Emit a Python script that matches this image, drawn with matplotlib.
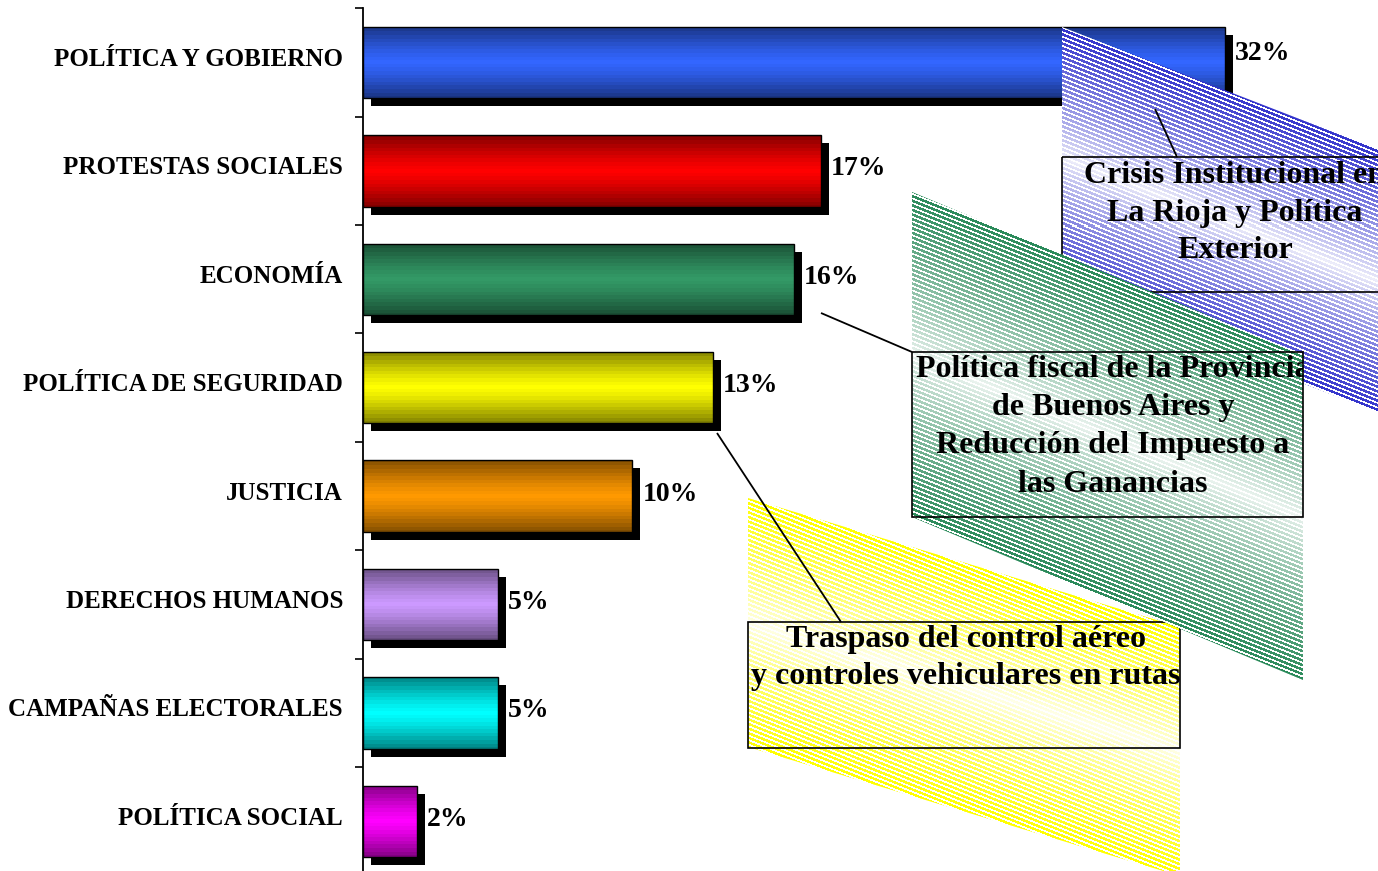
import numpy as np
import matplotlib
matplotlib.use("Agg")
import matplotlib.pyplot as plt
from matplotlib.patches import Rectangle, Polygon
from matplotlib import transforms
from matplotlib.colors import to_rgb

# ---------------- data ----------------
categories = ["POLÍTICA Y GOBIERNO", "PROTESTAS SOCIALES", "ECONOMÍA",
              "POLÍTICA DE SEGURIDAD", "JUSTICIA", "DERECHOS HUMANOS",
              "CAMPAÑAS ELECTORALES", "POLÍTICA SOCIAL"]
values = [32, 17, 16, 13, 10, 5, 5, 2]
value_labels = ["32%", "17%", "16%", "13%", "10%", "5%", "5%", "2%"]
bar_colors = ["#3366FF", "#FF0000", "#339966", "#FFFF00",
              "#FF9900", "#CC99FF", "#00FFFF", "#FF00FF"]

callout_yellow_text = ["Traspaso del control aéreo",
                       "y controles vehiculares en rutas"]
callout_blue_text = ["Crisis Institucional en", "La Rioja y Política", "Exterior"]
callout_green_text = ["Política fiscal de la Provincia", "de Buenos Aires y",
                      "Reducción del Impuesto a", "las Ganancias"]

# ---------------- figure ----------------
W, H = 1378, 871
fig = plt.figure(figsize=(W / 100, H / 100), dpi=100)
FONT = "Liberation Serif"

px_per_unit = (1225 - 363) / 32.0
ax_left, ax_top, ax_bottom = 363, 8.3, 875.5
ax = fig.add_axes([ax_left / W, (H - ax_bottom) / H,
                   (W - ax_left) / W, (ax_bottom - ax_top) / H])

ypos = np.arange(len(categories))
bar_h = 0.657
bars = ax.barh(ypos, values, height=bar_h, color="none",
               edgecolor="black", linewidth=1.0, zorder=3)

shadow_tr = transforms.offset_copy(ax.transData, fig=fig, x=8, y=-8, units="dots")
nrows = 80
tt = (np.arange(nrows) + 0.5) / nrows
dd = np.abs(2 * tt - 1)
dq = np.round(dd * 10) / 10
for bar, v, c, col in zip(bars, values, ypos, bar_colors):
    sh = Rectangle((0, c - bar_h / 2), v, bar_h, transform=shadow_tr,
                   facecolor="black", edgecolor="none", zorder=1)
    ax.add_patch(sh)
    base = np.array(to_rgb(col))
    fac = 1 - 0.5 * dq ** 1.3
    img = (fac[:, None] * base[None, :])[:, None, :]
    im = ax.imshow(img, extent=(0, v, c + bar_h / 2, c - bar_h / 2),
                   aspect="auto", interpolation="nearest", zorder=2)
    im.set_clip_path(bar)

ax.set_xlim(0, (W - ax_left) / px_per_unit)
ax.set_ylim(len(categories) - 0.5, -0.5)

# value labels
label_nudge_px = [2.5, -4.5, -4.5, -4.5, -4.5, -4.5, -4.5, -4.5]
for v, c, lab, dy in zip(values, ypos, value_labels, label_nudge_px):
    tr = transforms.offset_copy(ax.transData, fig=fig, x=10, y=dy, units="dots")
    ax.text(v, c, lab, transform=tr, ha="left", va="baseline",
            fontsize=20, fontweight="bold", family=FONT, zorder=5)

# axes styling
ax.set_yticks(ypos)
ax.set_yticklabels(categories)
ax.set_yticks(np.arange(-0.5, len(categories) + 0.5, 1), minor=True)
ax.tick_params(axis="y", which="major", length=0, pad=14.4)
ax.tick_params(axis="y", which="minor", length=6, width=1.2, direction="out")
ax.set_xticks([])
for s in ["top", "right", "bottom"]:
    ax.spines[s].set_visible(False)
ax.spines["left"].set_linewidth(1.3)
lab_shift = transforms.ScaledTranslation(0, -3.5 / 100, fig.dpi_scale_trans)
for lab in ax.get_yticklabels():
    lab.set_fontfamily(FONT)
    lab.set_fontweight("bold")
    lab.set_fontsize(18)
    lab.set_verticalalignment("baseline")
    lab.set_transform(lab.get_transform() + lab_shift)

# ---------------- callouts (pixel-space overlay) ----------------
axo = fig.add_axes([0, 0, 1, 1], zorder=10)
axo.axis("off")
axo.patch.set_visible(False)


def callout(color, x0, y0, w, shear, h, box, lines, baselines, cx, leader, z):
    col = np.array(to_rgb(color))
    poly = Polygon([(x0, y0), (x0 + w, y0 + shear), (x0 + w, y0 + shear + h),
                    (x0, y0 + h)], closed=True, facecolor="none",
                   edgecolor="none", zorder=z)
    axo.add_patch(poly)
    xmin, xmax = int(np.floor(x0)), int(np.ceil(x0 + w))
    ymin, ymax = int(np.floor(y0)), int(np.ceil(y0 + shear + h))
    X, Y = np.meshgrid(np.arange(xmin, xmax) + 0.5, np.arange(ymin, ymax) + 0.5)
    t = np.clip((Y - (y0 + shear * (X - x0) / w)) / h, 0, 1)
    a = 0.08 + 0.92 * np.abs(1 - 2 * t) ** 0.8
    stripe = np.mod(Y - 0.4 * X, 4.6) < 2.7
    img = np.ones(X.shape + (3,))
    mix = 1 - a[..., None] * (1 - col[None, None, :])
    img[stripe] = mix[stripe]
    im = axo.imshow(img, extent=(xmin, xmax, ymax, ymin), interpolation="nearest",
                    aspect="auto", zorder=z)
    im.set_clip_path(poly)
    bx0, by0, bx1, by1 = box
    rect = Rectangle((bx0, by0), bx1 - bx0, by1 - by0, fill=False,
                     edgecolor="black", linewidth=1.2, zorder=z + 0.1)
    axo.add_patch(rect)
    for line, bl in zip(lines, baselines):
        txt = axo.text(cx, bl, line, ha="center", va="baseline", fontsize=23,
                       fontweight="bold", family=FONT, zorder=z + 0.2, clip_on=True)
        txt.set_clip_path(rect)
    (lx0, ly0), (lx1, ly1) = leader
    axo.plot([lx0, lx1], [ly0, ly1], color="black", lw=1.3, zorder=z + 0.3,
             solid_capstyle="butt")


callout("#FFFF00", 748, 498, 432, 129, 249, (748, 622, 1180, 748),
        callout_yellow_text, [647, 684], 966, ((717, 433), (841, 622)), 1)
callout("#3333CC", 1062, 27, 346, 134, 263, (1062, 157, 1408, 292),
        callout_blue_text, [183, 221, 258], 1235, ((1155, 109), (1177, 157)), 2)
callout("#2A8A5A", 912, 192, 391, 163, 325, (912, 352, 1303, 517),
        callout_green_text, [377, 415, 453, 492], 1113, ((821, 313), (912, 352)), 3)
axo.set_xlim(0, W)
axo.set_ylim(H, 0)

fig.savefig("out.png", dpi=100)
